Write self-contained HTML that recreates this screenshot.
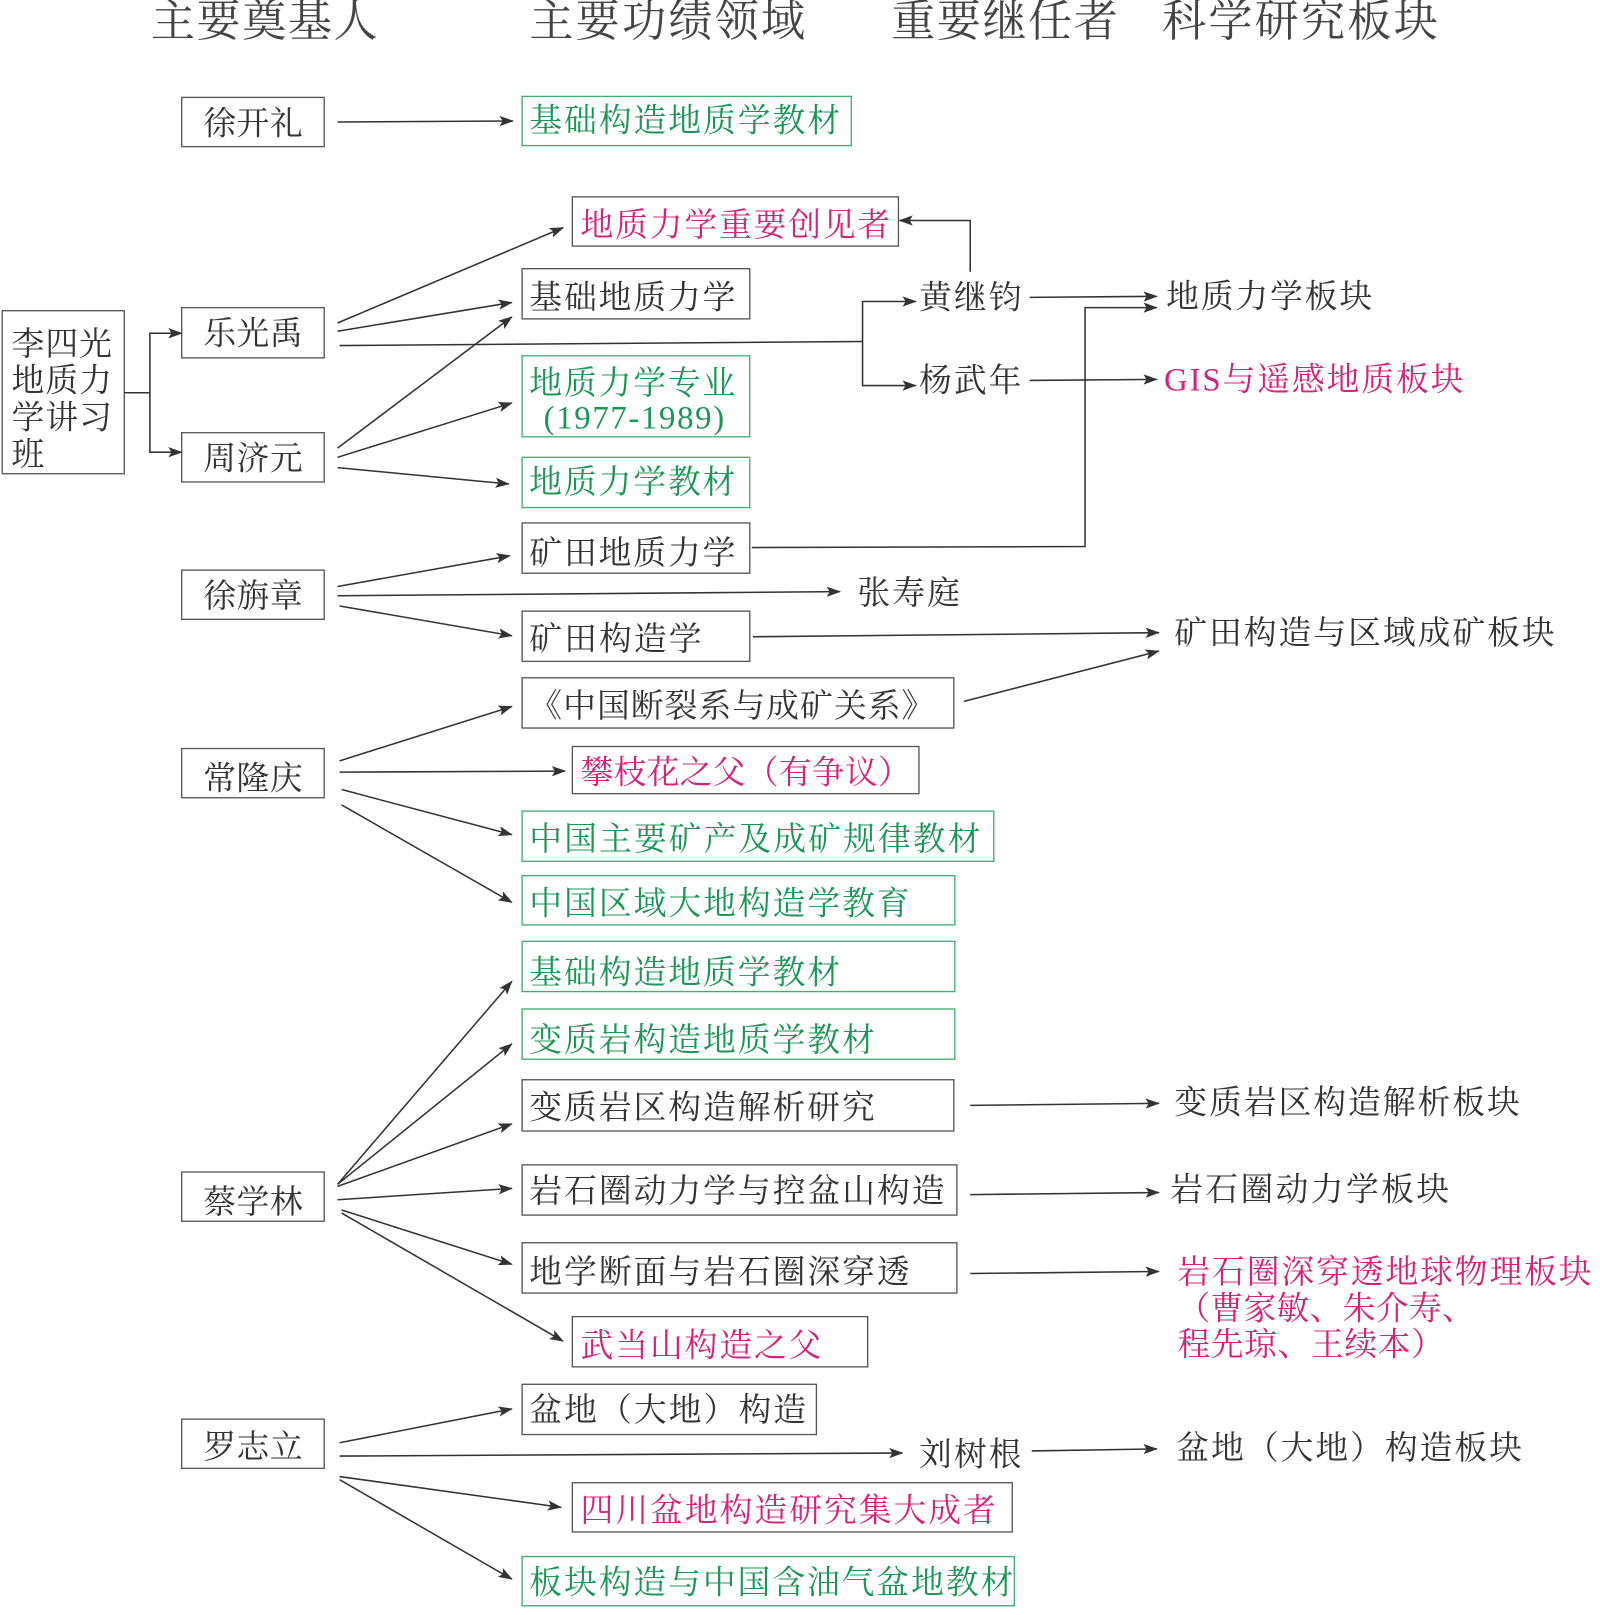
<!DOCTYPE html>
<html><head><meta charset="utf-8"><style>html,body{margin:0;padding:0;background:#fff}svg{display:block}</style></head>
<body>
<svg xmlns="http://www.w3.org/2000/svg" width="1600" height="1615" viewBox="0 0 1560 1575">
<defs>
<marker id="a" markerWidth="14" markerHeight="10" refX="13" refY="5" orient="auto" markerUnits="userSpaceOnUse">
<path d="M0,0 L14,5 L0,10 L3,5 z" fill="#333"/></marker>
</defs>
<style>
text{font-family:"Liberation Serif","Noto Serif CJK SC",serif;fill:#333;font-size:32px}
.h{font-size:43px;fill:#444}
.g{fill:#1a9656}.p{fill:#d4237a}
.bk{fill:none;stroke:#555;stroke-width:1.3}
.bg{fill:none;stroke:#3fae74;stroke-width:1.3}
.l{fill:none;stroke:#333;stroke-width:1.5}
.la{fill:none;stroke:#333;stroke-width:1.5;marker-end:url(#a)}
</style>
<!-- headers -->
<text class="h" x="147" y="35" textLength="221">主要奠基人</text>
<text class="h" x="516" y="35" textLength="269">主要功绩领域</text>
<text class="h" x="869" y="35" textLength="221">重要继任者</text>
<text class="h" x="1133" y="35" textLength="269">科学研究板块</text>

<!-- col1 boxes -->
<rect class="bk" x="177" y="95" width="139" height="48"/><text x="198" y="131" textLength="97">徐开礼</text>
<rect class="bk" x="2" y="303" width="119" height="159"/>
<text x="11" y="346" textLength="98">李四光</text>
<text x="11" y="382" textLength="98">地质力</text>
<text x="11" y="418" textLength="98">学讲习</text>
<text x="11" y="454">班</text>
<rect class="bk" x="177" y="300" width="139" height="49"/><text x="198" y="336" textLength="97">乐光禹</text>
<rect class="bk" x="177" y="422" width="139" height="48"/><text x="198" y="458" textLength="97">周济元</text>
<rect class="bk" x="177" y="556" width="139" height="48"/><text x="198" y="592" textLength="97">徐旃章</text>
<rect class="bk" x="177" y="730" width="139" height="48"/><text x="198" y="770" textLength="97">常隆庆</text>
<rect class="bk" x="177" y="1143" width="139" height="48"/><text x="198" y="1183" textLength="97">蔡学林</text>
<rect class="bk" x="177" y="1384" width="139" height="48"/><text x="198" y="1422" textLength="97">罗志立</text>

<!-- col2 boxes -->
<rect class="bg" x="509" y="94" width="321" height="48"/><text class="g" x="516" y="128" textLength="303">基础构造地质学教材</text>
<rect class="bk" x="558" y="192" width="318" height="48"/><text class="p" x="566" y="230" textLength="302">地质力学重要创见者</text>
<rect class="bk" x="509" y="262" width="222" height="49"/><text x="516" y="301" textLength="201">基础地质力学</text>
<rect class="bg" x="509" y="347" width="222" height="79"/><text class="g" x="516" y="384" textLength="201">地质力学专业</text><text class="g" x="530" y="418" textLength="176">(1977-1989)</text>
<rect class="bg" x="509" y="446" width="222" height="49"/><text class="g" x="516" y="481" textLength="201">地质力学教材</text>
<rect class="bk" x="509" y="510" width="222" height="49"/><text x="516" y="550" textLength="201">矿田地质力学</text>
<rect class="bk" x="509" y="596" width="222" height="49"/><text x="516" y="634" textLength="168">矿田构造学</text>
<rect class="bk" x="509" y="661" width="421" height="49"/><text x="516" y="699" textLength="395">《中国断裂系与成矿关系》</text>
<rect class="bk" x="558" y="728" width="338" height="46"/><text class="p" x="566" y="764" textLength="322">攀枝花之父（有争议）</text>
<rect class="bg" x="509" y="791" width="460" height="49"/><text class="g" x="516" y="829" textLength="440">中国主要矿产及成矿规律教材</text>
<rect class="bg" x="509" y="854" width="422" height="48"/><text class="g" x="516" y="892" textLength="371">中国区域大地构造学教育</text>
<rect class="bg" x="509" y="918" width="422" height="49"/><text class="g" x="516" y="959" textLength="303">基础构造地质学教材</text>
<rect class="bg" x="509" y="984" width="422" height="49"/><text class="g" x="516" y="1025" textLength="337">变质岩构造地质学教材</text>
<rect class="bk" x="509" y="1053" width="421" height="50"/><text x="516" y="1091" textLength="337">变质岩区构造解析研究</text>
<rect class="bk" x="509" y="1136" width="424" height="49"/><text x="516" y="1172" textLength="405">岩石圈动力学与控盆山构造</text>
<rect class="bk" x="509" y="1212" width="424" height="49"/><text x="516" y="1251" textLength="371">地学断面与岩石圈深穿透</text>
<rect class="bk" x="558" y="1284" width="288" height="49"/><text class="p" x="566" y="1323" textLength="235">武当山构造之父</text>
<rect class="bk" x="509" y="1350" width="287" height="49"/><text x="516" y="1386" textLength="270">盆地（大地）构造</text>
<rect class="bk" x="558" y="1446" width="429" height="48"/><text class="p" x="566" y="1484" textLength="405">四川盆地构造研究集大成者</text>
<rect class="bg" x="509" y="1518" width="480" height="48"/><text class="g" x="516" y="1554" textLength="472">板块构造与中国含油气盆地教材</text>

<!-- col3 -->
<text x="896" y="301" textLength="100">黄继钧</text>
<text x="896" y="382" textLength="100">杨武年</text>
<text x="836" y="589" textLength="100">张寿庭</text>
<text x="896" y="1429" textLength="100">刘树根</text>

<!-- col4 -->
<text x="1137" y="300" textLength="201">地质力学板块</text>
<text class="p" x="1135" y="381" textLength="292">GIS与遥感地质板块</text>
<text x="1145" y="628" textLength="371">矿田构造与区域成矿板块</text>
<text x="1145" y="1086" textLength="337">变质岩区构造解析板块</text>
<text x="1141" y="1171" textLength="272">岩石圈动力学板块</text>
<text class="p" x="1148" y="1251" textLength="404">岩石圈深穿透地球物理板块</text>
<text class="p" x="1148" y="1287" textLength="290">（曹家敏、朱介寿、</text>
<text class="p" x="1148" y="1322" textLength="260">程先琼、王续本）</text>
<text x="1147" y="1423" textLength="337">盆地（大地）构造板块</text>

<!-- connectors -->
<line class="la" x1="329" y1="119" x2="500" y2="118"/>
<polyline class="l" points="121,383 146,383"/>
<polyline class="la" points="146,383 146,325 177,325"/>
<polyline class="la" points="146,383 146,441 177,441"/>
<line class="la" x1="329" y1="315" x2="549" y2="222"/>
<line class="la" x1="329" y1="323" x2="499" y2="295"/>
<line class="l" x1="331" y1="337" x2="841" y2="333"/>
<polyline class="la" points="841,333 841,294 893,294"/>
<polyline class="la" points="841,333 841,376 893,376"/>
<line class="la" x1="329" y1="437" x2="499" y2="309"/>
<line class="la" x1="329" y1="446" x2="499" y2="393"/>
<line class="la" x1="329" y1="456" x2="496" y2="472"/>
<polyline class="la" points="946,265 946,215 877,215"/>
<line class="la" x1="1004" y1="290" x2="1128" y2="289"/>
<polyline class="la" points="733,534 1058,533 1058,300 1128,300"/>
<line class="la" x1="1004" y1="371" x2="1128" y2="370"/>
<line class="la" x1="329" y1="572" x2="497" y2="542"/>
<line class="la" x1="329" y1="581" x2="819" y2="577"/>
<line class="la" x1="331" y1="591" x2="499" y2="620"/>
<line class="la" x1="734" y1="621" x2="1130" y2="617"/>
<line class="la" x1="940" y1="684" x2="1130" y2="635"/>
<line class="la" x1="331" y1="742" x2="499" y2="689"/>
<line class="la" x1="331" y1="753" x2="551" y2="752"/>
<line class="la" x1="333" y1="770" x2="499" y2="814"/>
<line class="la" x1="333" y1="785" x2="499" y2="880"/>
<line class="la" x1="329" y1="1155" x2="499" y2="957"/>
<line class="la" x1="329" y1="1155" x2="499" y2="1018"/>
<line class="la" x1="329" y1="1157" x2="499" y2="1096"/>
<line class="la" x1="329" y1="1170" x2="499" y2="1159"/>
<line class="la" x1="333" y1="1180" x2="499" y2="1233"/>
<line class="la" x1="333" y1="1183" x2="549" y2="1308"/>
<line class="la" x1="946" y1="1078" x2="1130" y2="1076"/>
<line class="la" x1="946" y1="1165" x2="1130" y2="1163"/>
<line class="la" x1="946" y1="1242" x2="1130" y2="1240"/>
<line class="la" x1="331" y1="1407" x2="499" y2="1374"/>
<line class="la" x1="331" y1="1420" x2="880" y2="1417"/>
<line class="la" x1="331" y1="1440" x2="547" y2="1470"/>
<line class="la" x1="331" y1="1443" x2="499" y2="1540"/>
<line class="la" x1="1006" y1="1415" x2="1128" y2="1413"/>
</svg>
</body></html>
